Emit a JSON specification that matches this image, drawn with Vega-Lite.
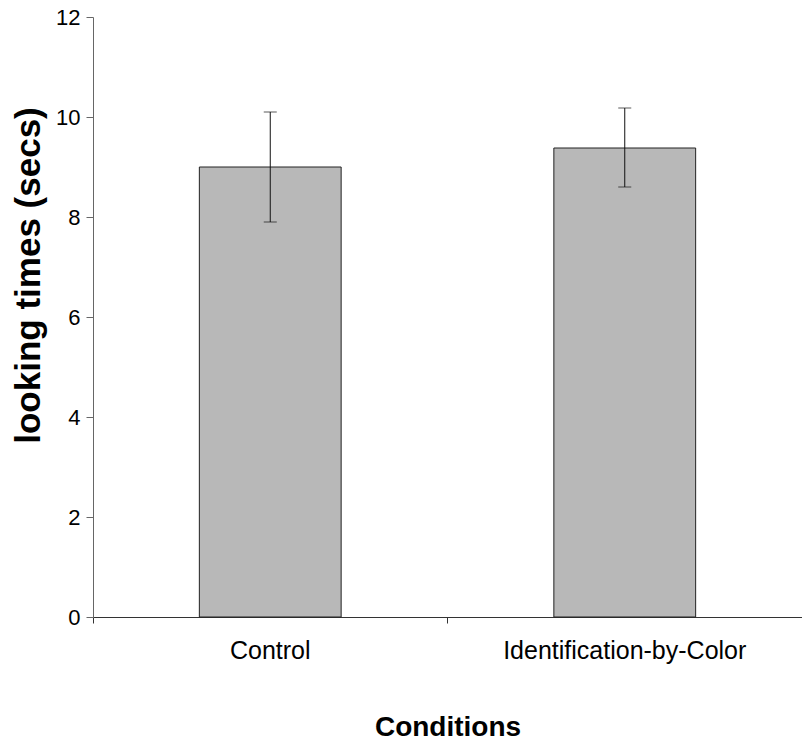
{
  "$schema": "https://vega.github.io/schema/vega-lite/v6.json",
  "width": 709,
  "height": 600,
  "autosize": "none",
  "padding": {"left": 93, "top": 17, "right": 0, "bottom": 126},
  "config": {"view": {"stroke": null}, "font": "Liberation Sans"},
  "data": {"values": [
    {"condition": "Control", "mean": 9.0, "low": 7.9, "high": 10.1},
    {"condition": "Identification-by-Color", "mean": 9.38, "low": 8.6, "high": 10.18}
  ]},
  "encoding": {
    "x": {
      "field": "condition", "type": "nominal", "sort": null,
      "scale": {"paddingInner": 0, "paddingOuter": 0},
      "axis": {
        "title": "Conditions", "labelAngle": 0, "bandPosition": 0, "labelLimit": 0,
        "tickSize": 6, "tickColor": "#333", "domainColor": "#333",
        "labelFontSize": 25, "labelColor": "#000", "labelPadding": 15,
        "titleFontSize": 28, "titleFontWeight": "bold", "titleColor": "#000", "titlePadding": 50
      }
    }
  },
  "layer": [
    {
      "mark": {"type": "bar", "fill": "#b8b8b8", "stroke": "#222", "strokeWidth": 1, "width": {"band": 0.4}},
      "encoding": {
        "y": {
          "field": "mean", "type": "quantitative",
          "scale": {"domain": [0, 12], "nice": false},
          "axis": {
            "title": "looking times (secs)", "values": [0, 2, 4, 6, 8, 10, 12], "grid": false,
            "tickSize": 7, "tickColor": "#666", "domainColor": "#666",
            "labelFontSize": 22, "labelColor": "#000", "labelPadding": 6,
            "titleFontSize": 35, "titleFontWeight": "bold", "titleColor": "#000",
            "titleX": -65, "titleY": 258, "titleBaseline": "middle", "titleAlign": "center", "titleAngle": -90
          }
        }
      }
    },
    {
      "mark": {"type": "rule", "color": "#111", "strokeWidth": 1},
      "encoding": {"y": {"field": "low", "type": "quantitative"}, "y2": {"field": "high"}}
    },
    {
      "mark": {"type": "tick", "size": 13, "thickness": 1, "color": "#111"},
      "encoding": {"y": {"field": "low", "type": "quantitative"}}
    },
    {
      "mark": {"type": "tick", "size": 13, "thickness": 1, "color": "#111"},
      "encoding": {"y": {"field": "high", "type": "quantitative"}}
    }
  ]
}
